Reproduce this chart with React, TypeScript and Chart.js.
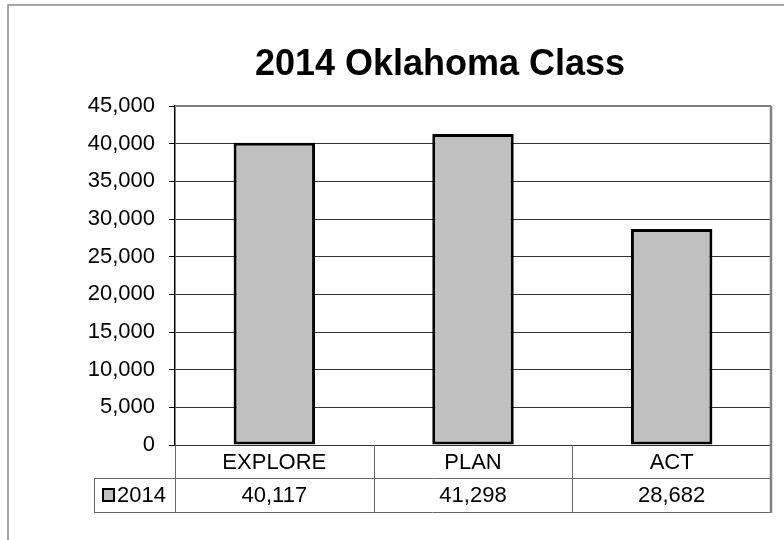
import React, { useEffect, useRef } from "react";
import { Chart, registerables } from "chart.js";

Chart.register(...registerables);

const titleText = "2014 Oklahoma Class";
const categories = ["EXPLORE", "PLAN", "ACT"];
const seriesLabel = "2014";
const values2014 = [40117, 41298, 28682];
const yMin = 0;
const yMax = 45000;
const yStep = 5000;

const FONT = '"Liberation Sans", Arial, sans-serif';
const fmt = (v: number) => v.toLocaleString("en-US");

const tablePlugin = {
  id: "excelTable",
  afterDraw(chart: any) {
    const ctx = chart.ctx as CanvasRenderingContext2D;
    const area = chart.chartArea;
    const xs = chart.scales.x;
    const W = chart.width;
    const H = chart.height;
    ctx.save();

    // outer frame (cropped)
    ctx.strokeStyle = "#8a8a8a";
    ctx.lineWidth = 1.5;
    ctx.beginPath();
    ctx.moveTo(8, H);
    ctx.lineTo(8, 5);
    ctx.lineTo(W, 5);
    ctx.stroke();

    // title
    ctx.fillStyle = "#000";
    ctx.font = `bold 36px ${FONT}`;
    ctx.textAlign = "center";
    ctx.textBaseline = "alphabetic";
    ctx.fillText(titleText, 440, 75);

    // plot area top & right border (gray)
    ctx.strokeStyle = "#808080";
    ctx.lineWidth = 2;
    ctx.beginPath();
    ctx.moveTo(area.left, area.top);
    ctx.lineTo(area.right, area.top);
    ctx.stroke();
    ctx.lineWidth = 2.5;
    ctx.beginPath();
    ctx.moveTo(area.right, area.top);
    ctx.lineTo(area.right, area.bottom);
    ctx.stroke();

    // data table
    const row1 = area.bottom;
    const row2 = area.bottom + 33;
    const row3 = area.bottom + 67;
    const legendLeft = 94;
    const n = categories.length;
    const colW = (area.right - area.left) / n;

    ctx.strokeStyle = "#666";
    ctx.lineWidth = 1;
    ctx.beginPath();
    ctx.moveTo(legendLeft, row2 + 0.5);
    ctx.lineTo(area.right, row2 + 0.5);
    ctx.moveTo(legendLeft, row3 + 0.5);
    ctx.lineTo(area.right, row3 + 0.5);
    ctx.moveTo(legendLeft + 0.5, row2);
    ctx.lineTo(legendLeft + 0.5, row3);
    for (let i = 0; i <= n; i++) {
      const x = Math.round(area.left + i * colW) + 0.5;
      ctx.moveTo(x, row1);
      ctx.lineTo(x, row3);
    }
    ctx.stroke();
    ctx.strokeStyle = "#808080";
    ctx.lineWidth = 2.5;
    ctx.beginPath();
    ctx.moveTo(area.right, row1);
    ctx.lineTo(area.right, row3 + 1);
    ctx.stroke();

    ctx.fillStyle = "#000";
    ctx.font = `22px ${FONT}`;
    ctx.textAlign = "center";
    categories.forEach((c, i) => {
      const cx = xs.getPixelForValue(i);
      ctx.fillText(c, cx, row1 + 24);
      ctx.fillText(fmt(values2014[i]), cx, row2 + 24);
    });

    // legend key
    ctx.fillStyle = "#C0C0C0";
    ctx.fillRect(103, 489, 11, 12);
    ctx.strokeStyle = "#000";
    ctx.lineWidth = 2;
    ctx.strokeRect(103, 489, 11, 12);
    ctx.fillStyle = "#000";
    ctx.textAlign = "left";
    ctx.fillText(seriesLabel, 117, row2 + 24);

    ctx.restore();
  },
};

export default function App() {
  const ref = useRef<HTMLCanvasElement | null>(null);

  useEffect(() => {
    document.body.style.margin = "0";
    const canvas = ref.current;
    if (!canvas) return;
    const chart = new Chart(canvas, {
      type: "bar",
      data: {
        labels: categories,
        datasets: [
          {
            label: seriesLabel,
            data: values2014,
            backgroundColor: "#C0C0C0",
            borderColor: "#000",
            borderWidth: 3,
            borderSkipped: false,
            categoryPercentage: 1,
            barPercentage: 0.41,
          },
        ],
      },
      options: {
        responsive: false,
        animation: false,
        layout: { padding: { top: 106, right: 13, bottom: 0, left: 0 } },
        plugins: {
          legend: { display: false },
          title: { display: false },
          tooltip: { enabled: false },
        },
        scales: {
          x: {
            type: "category",
            display: true,
            ticks: { display: false },
            grid: { display: false, drawTicks: false },
            border: { display: false },
            afterFit: (s: any) => {
              s.height = 95;
            },
          },
          y: {
            min: yMin,
            max: yMax,
            ticks: {
              stepSize: yStep,
              color: "#000",
              padding: 14,
              font: { family: FONT, size: 22 },
              callback: (v: any) => fmt(Number(v)),
            },
            grid: {
              color: "#333",
              lineWidth: 1,
              tickLength: 6,
              tickColor: "#000",
            },
            border: { display: true, color: "#000", width: 1.5 },
            afterFit: (s: any) => {
              s.width = 175;
            },
          },
        },
      },
      plugins: [tablePlugin],
    });
    return () => chart.destroy();
  }, []);

  return (
    <div style={{ position: "absolute", left: 0, top: 0, width: 784, height: 540, background: "#fff" }}>
      <canvas ref={ref} width={784} height={540} />
    </div>
  );
}
